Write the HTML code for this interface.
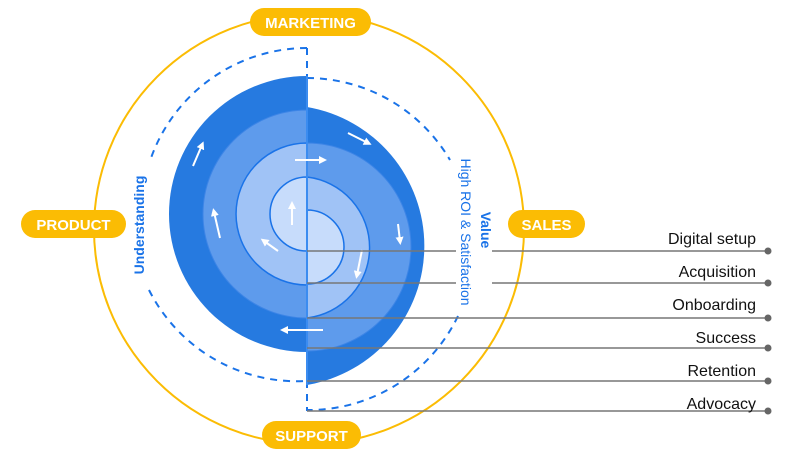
<!DOCTYPE html>
<html><head><meta charset="utf-8"><style>
html,body{margin:0;padding:0;background:#fff;}
svg{display:block;}
text{font-family:"Liberation Sans",sans-serif;}
</style></head><body>
<svg width="791" height="465" viewBox="0 0 791 465" xmlns="http://www.w3.org/2000/svg">
<defs>
<marker id="ah" viewBox="0 0 10 10" refX="5" refY="5" markerWidth="4" markerHeight="4" orient="auto"><path d="M0,0 L10,5 L0,10 z" fill="#fff"/></marker>
</defs>
<circle cx="309" cy="229" r="215" fill="none" stroke="#fbbc04" stroke-width="2"/>
<g fill="none" stroke="#1a73e8" stroke-width="2" stroke-dasharray="7,6">
<path d="M307,48 A166,166 0 0,0 151,158"/>
<path d="M149,290 A166,166 0 0,0 307,381"/>
<path d="M307,48 L307,78"/>
<path d="M307,78 A166,166 0 0,1 450,160"/>
<path d="M458,316 A166,166 0 0,1 307,410"/>
<path d="M307,381 L307,411"/>
</g>
<path d="M307,76 A138,138 0 0,0 307,352 Z" fill="#267ae0"/>
<path d="M307,110 A104,104 0 0,0 307,318 Z" fill="#5e9bec" stroke="#3d85e6" stroke-width="1"/>
<path d="M307,143 A71,71 0 0,0 307,285 Z" fill="#a0c3f6" stroke="#1a73e8" stroke-width="1.5"/>
<path d="M307,177 A37,37 0 0,0 307,251 Z" fill="#c7dcfb" stroke="#1a73e8" stroke-width="1.5"/>
<path d="M307,107 A141,141 0 0,1 307,385 Z" fill="#267ae0"/>
<path d="M307,143 A104,104 0 0,1 307,351 Z" fill="#5e9bec" stroke="#3d85e6" stroke-width="1"/>
<path d="M307,177 A71,71 0 0,1 307,318 Z" fill="#a0c3f6" stroke="#1a73e8" stroke-width="1.5"/>
<path d="M307,210 A37,37 0 0,1 307,284 Z" fill="#c7dcfb" stroke="#1a73e8" stroke-width="1.5"/>
<line x1="307" y1="76" x2="307" y2="385" stroke="#3b8cf0" stroke-width="2"/>
<g stroke="#fff" stroke-width="2" marker-end="url(#ah)">
<line x1="193" y1="166" x2="202" y2="145"/>
<line x1="220" y1="238" x2="214" y2="212"/>
<line x1="278" y1="251" x2="264" y2="241"/>
<line x1="292" y1="225" x2="292" y2="205"/>
<line x1="295" y1="160" x2="323" y2="160"/>
<line x1="348" y1="133" x2="368" y2="143"/>
<line x1="398" y1="224" x2="400" y2="241"/>
<line x1="362" y1="250" x2="357" y2="275"/>
<line x1="433" y1="240" x2="433" y2="260"/>
<line x1="323" y1="330" x2="284" y2="330"/>
</g>
<g stroke="#777" stroke-width="1.5">
<line x1="307" y1="251" x2="456" y2="251"/><line x1="492" y1="251" x2="768" y2="251"/>
<line x1="307" y1="283" x2="456" y2="283"/><line x1="492" y1="283" x2="768" y2="283"/>
<line x1="307" y1="318" x2="768" y2="318"/>
<line x1="307" y1="348" x2="768" y2="348"/>
<line x1="307" y1="381" x2="768" y2="381"/>
<line x1="307" y1="411" x2="768" y2="411"/>
</g>
<g fill="#666">
<circle cx="768" cy="251" r="3.5"/><circle cx="768" cy="283" r="3.5"/><circle cx="768" cy="318" r="3.5"/>
<circle cx="768" cy="348" r="3.5"/><circle cx="768" cy="381" r="3.5"/><circle cx="768" cy="411" r="3.5"/>
</g>
<g font-size="16" fill="#111" text-anchor="end">
<text x="756" y="244">Digital setup</text>
<text x="756" y="277">Acquisition</text>
<text x="756" y="310">Onboarding</text>
<text x="756" y="343">Success</text>
<text x="756" y="376">Retention</text>
<text x="756" y="409">Advocacy</text>
</g>
<text transform="translate(144,225) rotate(-90)" text-anchor="middle" font-size="14" font-weight="bold" fill="#1a73e8">Understanding</text>
<text transform="translate(481,230) rotate(90)" text-anchor="middle" font-size="14" font-weight="bold" fill="#1a73e8">Value</text>
<text transform="translate(461,232) rotate(90)" text-anchor="middle" font-size="14" fill="#1a73e8">High ROI &amp; Satisfaction</text>
<g fill="#fbbc04">
<rect x="250" y="8" width="121" height="28" rx="14"/>
<rect x="21" y="210" width="105" height="28" rx="14"/>
<rect x="508" y="210" width="77" height="28" rx="14"/>
<rect x="262" y="421" width="99" height="28" rx="14"/>
</g>
<g fill="#fff" font-size="15" font-weight="bold" text-anchor="middle">
<text x="310.5" y="28">MARKETING</text>
<text x="73.5" y="230">PRODUCT</text>
<text x="546.5" y="230">SALES</text>
<text x="311.5" y="441">SUPPORT</text>
</g>
</svg>
</body></html>
